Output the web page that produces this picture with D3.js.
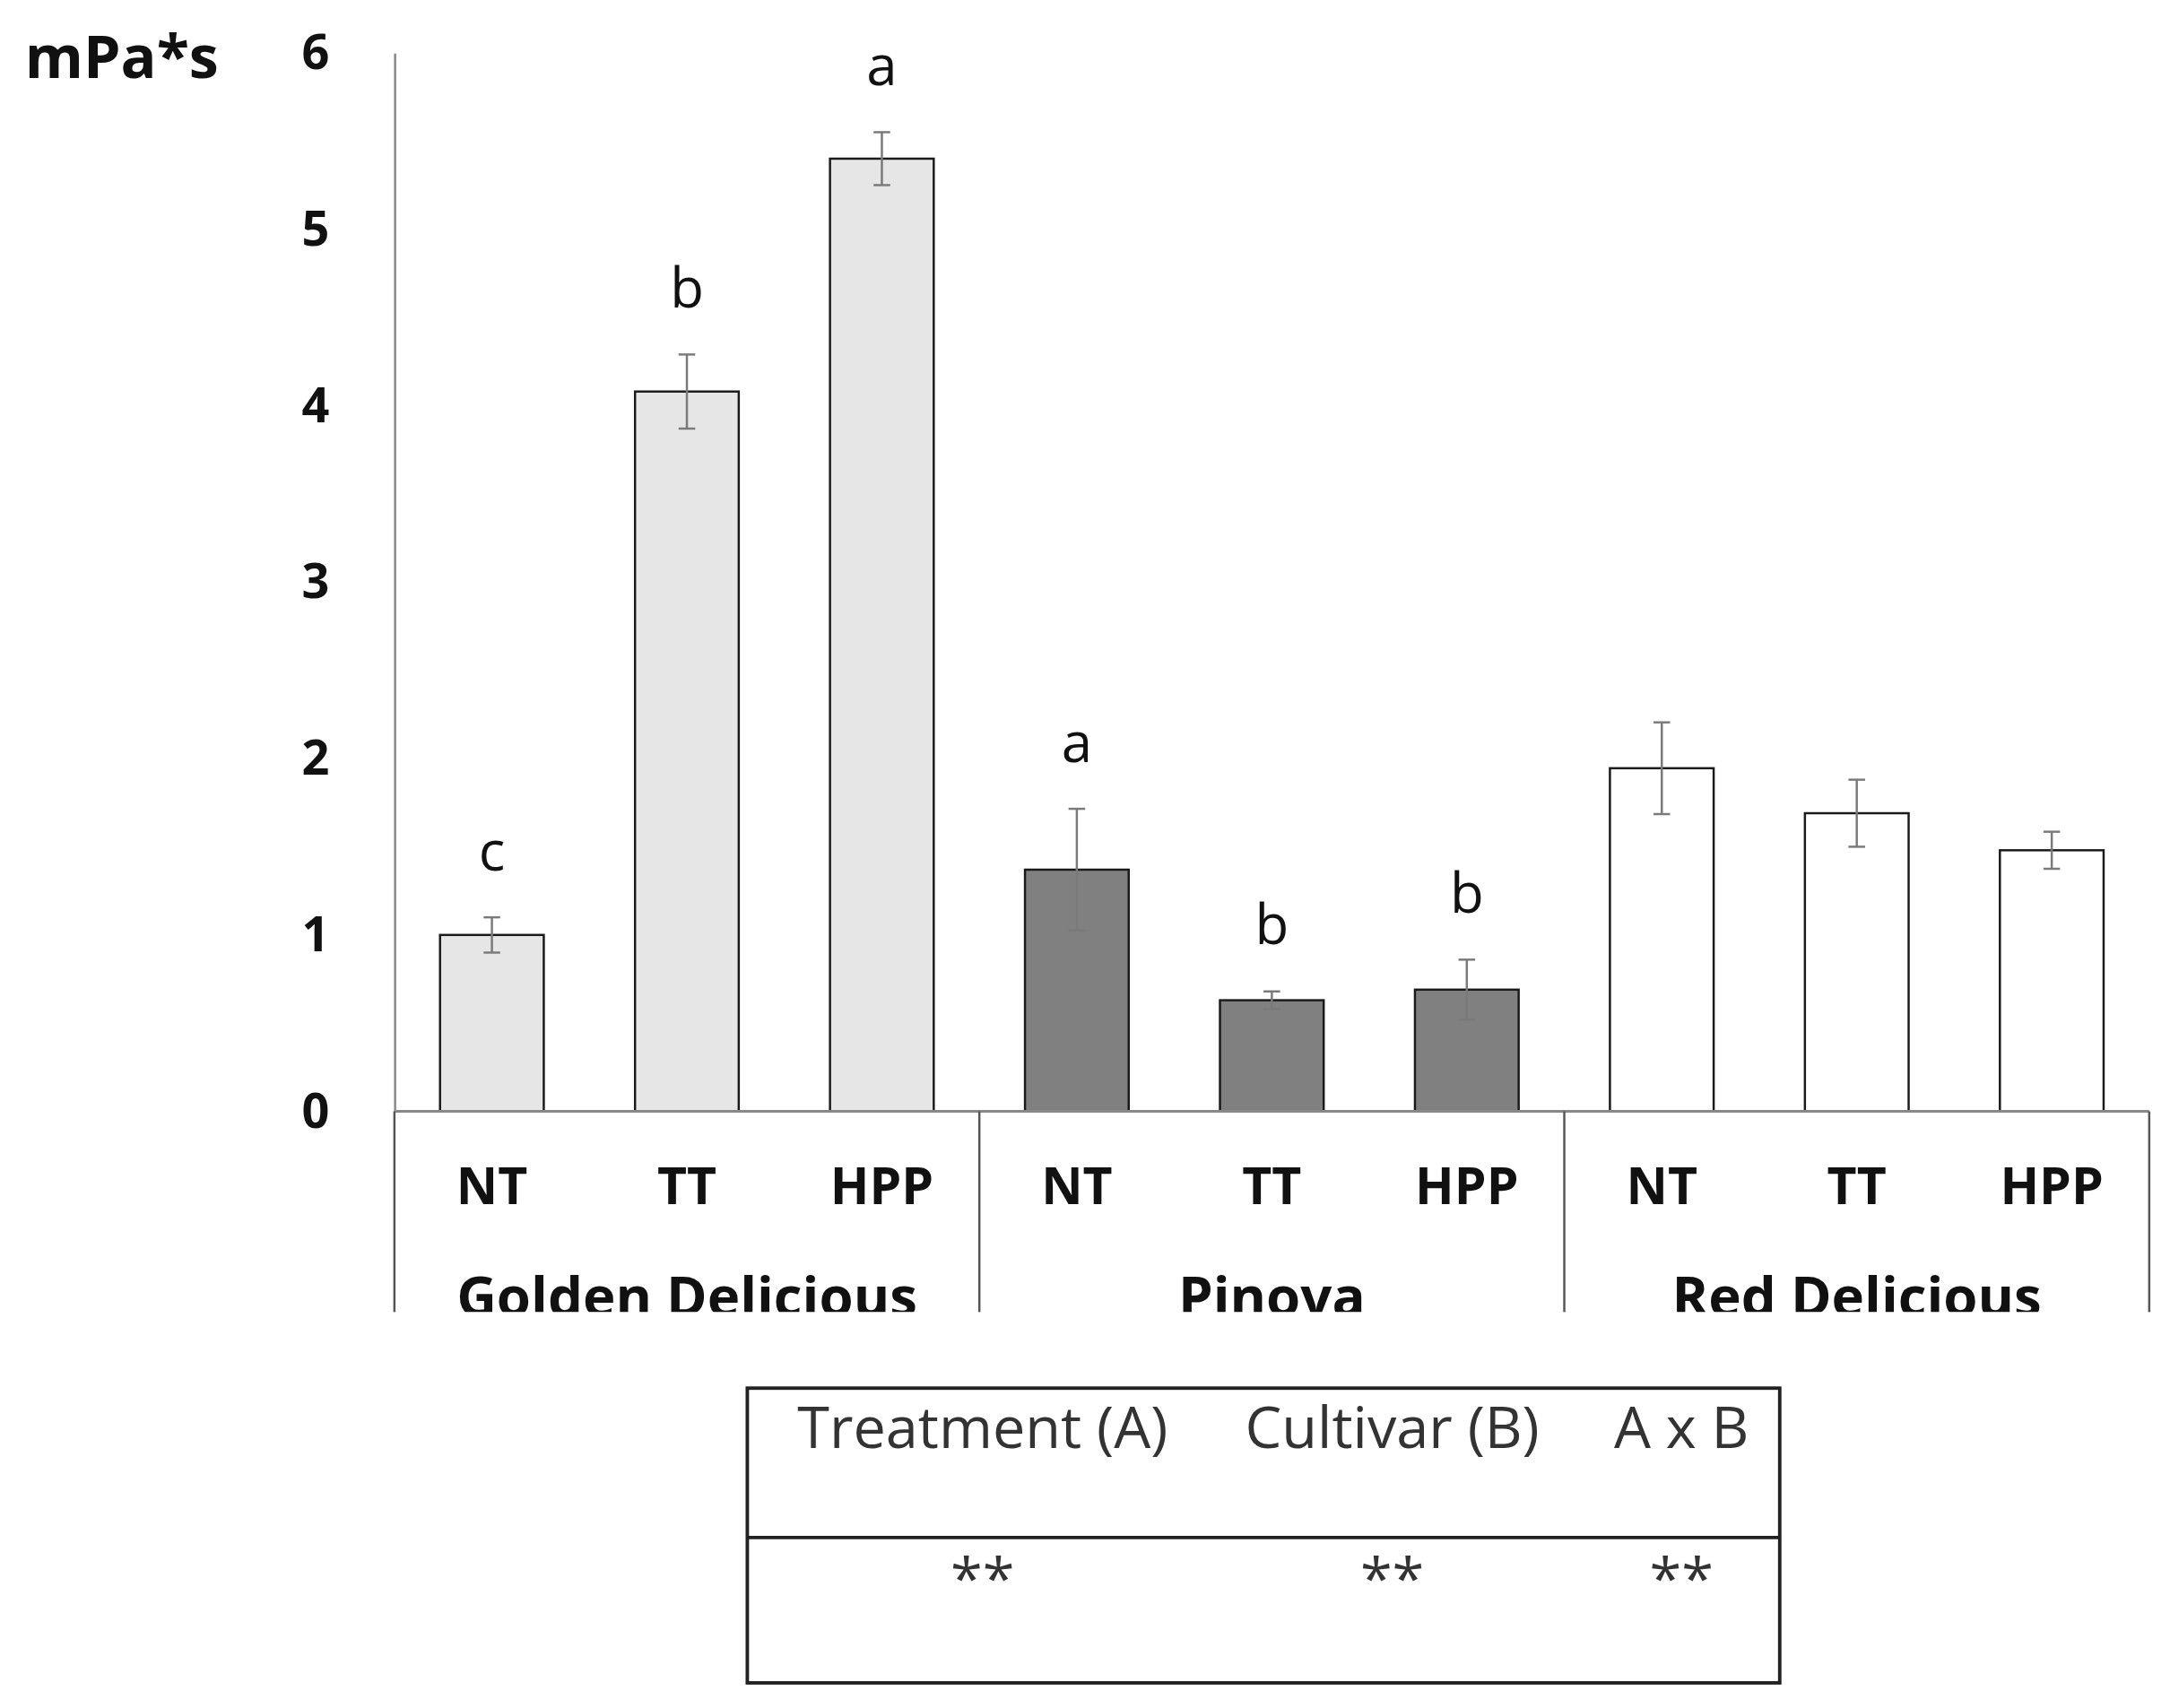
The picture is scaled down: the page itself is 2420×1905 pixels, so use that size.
<!DOCTYPE html>
<html>
<head>
<meta charset="utf-8">
<script src="https://cdn.jsdelivr.net/npm/d3@7"></script>
<style>
  html, body { margin: 0; padding: 0; background: #fff; }
  svg { display: block; }
  text { font-family: "Open Sans", "Noto Sans", sans-serif; }
</style>
</head>
<body>
<svg></svg>
<script>
// Data
const cultivars = ["Golden Delicious", "Pinova", "Red Delicious"];
const treatments = ["NT", "TT", "HPP"];
const viscosity = [1.00, 4.08, 5.40, 1.37, 0.63, 0.69, 1.945, 1.69, 1.48];
const stdErr = [0.10, 0.21, 0.15, 0.345, 0.05, 0.17, 0.26, 0.19, 0.105];
const letters = ["c", "b", "a", "a", "b", "b", "", "", ""];
const yTicks = [0, 1, 2, 3, 4, 5, 6];
const tableHeaders = ["Treatment (A)", "Cultivar (B)", "A x B"];
const tableMarks = ["**", "**", "**"];

const fills = { "Golden Delicious": "#e6e6e6", "Pinova": "#808080", "Red Delicious": "#ffffff" };

const svg = d3.select("svg")
    .attr("width", 2420)
    .attr("height", 1905)
    .attr("viewBox", "0 0 1568 1234");

const plotLeft = 285, plotRight = 1553, plotTop = 38, base = 803, groupBottom = 948;

const rows = [];
cultivars.forEach((c, gi) => treatments.forEach((t, ti) => {
    const i = gi * treatments.length + ti;
    rows.push({ key: c + "|" + t, cultivar: c, treatment: t, value: viscosity[i], err: stdErr[i], letter: letters[i] });
}));

const x = d3.scaleBand()
    .domain(rows.map(d => d.key))
    .range([plotLeft, plotRight])
    .paddingInner(0.468)
    .paddingOuter(0.234);

const xGroup = d3.scaleBand()
    .domain(cultivars)
    .range([plotLeft, plotRight]);

const y = d3.scaleLinear()
    .domain([0, 6])
    .range([base, plotTop]);

// y axis
const yAxis = svg.append("g")
    .attr("transform", `translate(${plotLeft},0)`)
    .call(d3.axisLeft(y).tickValues(yTicks).tickSize(0).tickPadding(47).tickFormat(d3.format("d")));
yAxis.select(".domain").attr("stroke", "#888").attr("stroke-width", 1.6);
yAxis.selectAll("text")
    .attr("font-size", 35)
    .attr("font-weight", "bold")
    .attr("fill", "#111")
    .attr("font-family", "'Open Sans', sans-serif");

svg.append("text")
    .attr("x", 18).attr("y", 56)
    .attr("font-size", 43).attr("font-weight", "bold").attr("fill", "#111")
    .text("mPa*s");

// bars
svg.selectAll(".bar")
    .data(rows)
    .enter().append("rect")
    .attr("class", "bar")
    .attr("x", d => x(d.key))
    .attr("y", d => y(d.value))
    .attr("width", x.bandwidth())
    .attr("height", d => base - y(d.value))
    .attr("fill", d => fills[d.cultivar])
    .attr("stroke", "#1a1a1a")
    .attr("stroke-width", 1.6);

// error bars
const eb = svg.append("g").attr("stroke", "#7a7a7a").attr("stroke-width", 1.6);
const cap = 6;
rows.forEach(d => {
    const cx = x(d.key) + x.bandwidth() / 2;
    eb.append("line").attr("x1", cx).attr("x2", cx).attr("y1", y(d.value + d.err)).attr("y2", y(d.value - d.err));
    eb.append("line").attr("x1", cx - cap).attr("x2", cx + cap).attr("y1", y(d.value + d.err)).attr("y2", y(d.value + d.err));
    eb.append("line").attr("x1", cx - cap).attr("x2", cx + cap).attr("y1", y(d.value - d.err)).attr("y2", y(d.value - d.err));
});

// significance letters
svg.selectAll(".letter")
    .data(rows.filter(d => d.letter))
    .enter().append("text")
    .attr("class", "letter")
    .attr("x", d => x(d.key) + x.bandwidth() / 2)
    .attr("y", d => y(d.value + d.err) - 34)
    .attr("text-anchor", "middle")
    .attr("font-size", 40)
    .attr("fill", "#111")
    .text(d => d.letter);

// baseline and group dividers
svg.append("line")
    .attr("x1", plotLeft).attr("x2", plotRight).attr("y1", base).attr("y2", base)
    .attr("stroke", "#888").attr("stroke-width", 2);

const dividers = cultivars.map(c => xGroup(c)).concat([plotRight]);
svg.selectAll(".divider")
    .data(dividers)
    .enter().append("line")
    .attr("class", "divider")
    .attr("x1", d => d).attr("x2", d => d)
    .attr("y1", base).attr("y2", groupBottom)
    .attr("stroke", "#555").attr("stroke-width", 1.6);

// treatment labels
svg.selectAll(".tlabel")
    .data(rows)
    .enter().append("text")
    .attr("class", "tlabel")
    .attr("x", d => x(d.key) + x.bandwidth() / 2)
    .attr("y", 870)
    .attr("text-anchor", "middle")
    .attr("font-size", 37).attr("font-weight", "bold").attr("fill", "#111")
    .text(d => d.treatment);

// cultivar labels, cut at the bottom like the original
svg.append("clipPath").attr("id", "groupClip")
    .append("rect").attr("x", 0).attr("y", 880).attr("width", 1568).attr("height", groupBottom - 880);

svg.append("g").attr("clip-path", "url(#groupClip)")
    .selectAll("text")
    .data(cultivars)
    .enter().append("text")
    .attr("x", d => xGroup(d) + xGroup.bandwidth() / 2)
    .attr("y", 951)
    .attr("text-anchor", "middle")
    .attr("font-size", 40).attr("font-weight", "bold").attr("fill", "#111")
    .text(d => d);

// ANOVA table
const tbl = { x0: 540, x1: 1286, y0: 1003, mid: 1111, y1: 1216 };
const colCenters = [710, 1006, 1215];

svg.append("rect")
    .attr("x", tbl.x0).attr("y", tbl.y0)
    .attr("width", tbl.x1 - tbl.x0).attr("height", tbl.y1 - tbl.y0)
    .attr("fill", "none").attr("stroke", "#222").attr("stroke-width", 2.5);
svg.append("line")
    .attr("x1", tbl.x0).attr("x2", tbl.x1).attr("y1", tbl.mid).attr("y2", tbl.mid)
    .attr("stroke", "#222").attr("stroke-width", 2.5);

svg.selectAll(".thead")
    .data(tableHeaders)
    .enter().append("text")
    .attr("class", "thead")
    .attr("x", (d, i) => colCenters[i])
    .attr("y", 1046)
    .attr("text-anchor", "middle")
    .attr("font-size", 42).attr("fill", "#333")
    .text(d => d);

svg.selectAll(".tmark")
    .data(tableMarks)
    .enter().append("text")
    .attr("class", "tmark")
    .attr("x", (d, i) => colCenters[i])
    .attr("y", 1156)
    .attr("text-anchor", "middle")
    .attr("font-size", 42).attr("fill", "#333")
    .text(d => d);
</script>
</body>
</html>
